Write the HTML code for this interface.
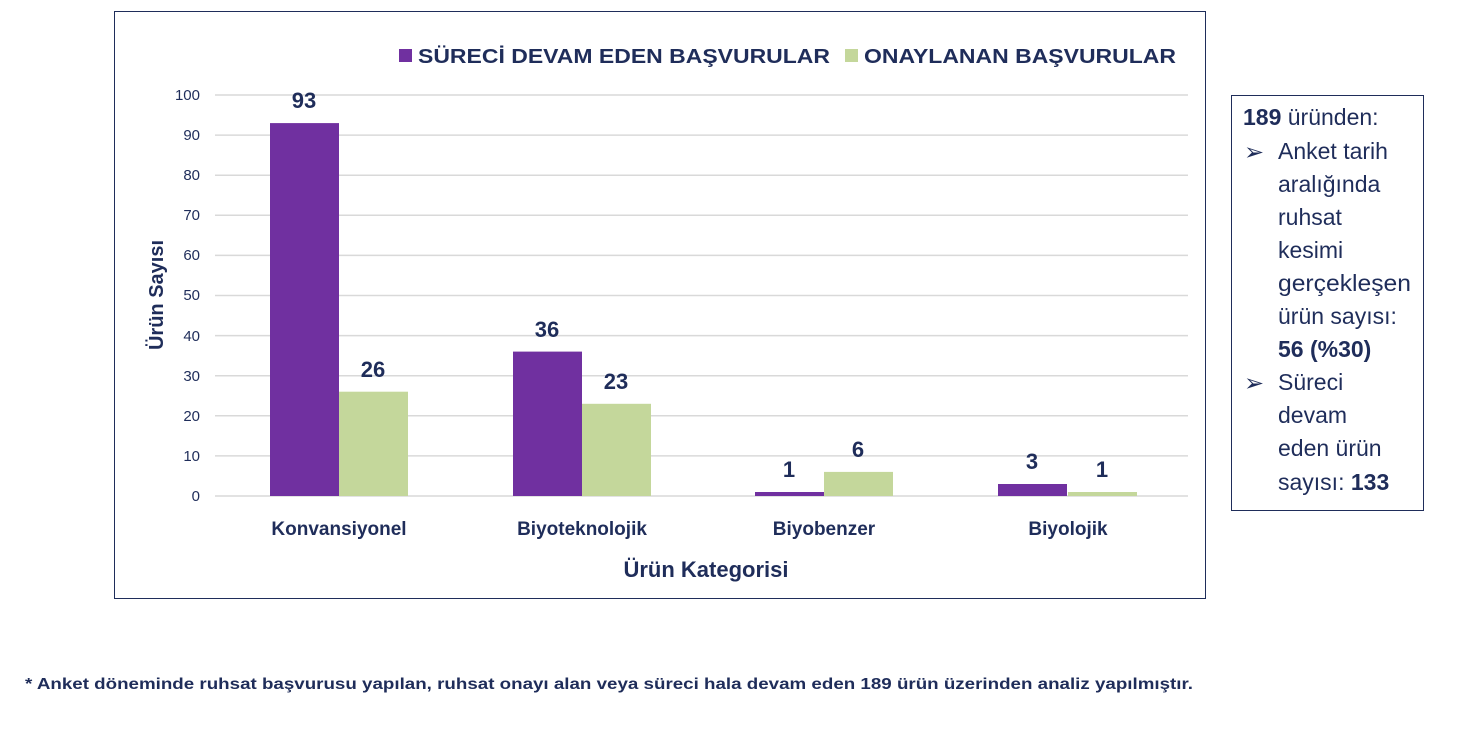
<!DOCTYPE html>
<html><head><meta charset="utf-8"><style>
body{margin:0;background:#fff;width:1477px;height:744px;overflow:hidden;font-family:"Liberation Sans",sans-serif}
</style></head><body>
<svg width="1477" height="744" xmlns="http://www.w3.org/2000/svg" font-family="Liberation Sans, sans-serif">
<rect x="114.5" y="11.5" width="1091" height="587" fill="#fff" stroke="#1f2d5a" stroke-width="1"/>
<g stroke="#d9d9d9" stroke-width="1.5">
<line x1="215" x2="1188" y1="496" y2="496"/><line x1="215" x2="1188" y1="455.9" y2="455.9"/>
<line x1="215" x2="1188" y1="415.8" y2="415.8"/><line x1="215" x2="1188" y1="375.7" y2="375.7"/>
<line x1="215" x2="1188" y1="335.6" y2="335.6"/><line x1="215" x2="1188" y1="295.5" y2="295.5"/>
<line x1="215" x2="1188" y1="255.4" y2="255.4"/><line x1="215" x2="1188" y1="215.3" y2="215.3"/>
<line x1="215" x2="1188" y1="175.2" y2="175.2"/><line x1="215" x2="1188" y1="135.1" y2="135.1"/>
<line x1="215" x2="1188" y1="95" y2="95"/>
</g>
<g font-size="15" fill="#1f2d5a" text-anchor="end">
<text x="200" y="501">0</text><text x="200" y="461">10</text><text x="200" y="421">20</text>
<text x="200" y="381">30</text><text x="200" y="341">40</text><text x="200" y="300">50</text>
<text x="200" y="260">60</text><text x="200" y="220">70</text><text x="200" y="180">80</text>
<text x="200" y="140">90</text><text x="200" y="100">100</text>
</g>
<g fill="#7030a0">
<rect x="270" y="123.1" width="69" height="372.9"/>
<rect x="513" y="351.6" width="69" height="144.4"/>
<rect x="755" y="492" width="69" height="4"/>
<rect x="998" y="484" width="69" height="12"/>
</g>
<g fill="#c4d79b">
<rect x="339" y="391.7" width="69" height="104.3"/>
<rect x="582" y="403.8" width="69" height="92.2"/>
<rect x="824" y="471.9" width="69" height="24.1"/>
<rect x="1068" y="492" width="69" height="4"/>
</g>
<g font-size="22" font-weight="bold" fill="#1f2d5a" text-anchor="middle">
<text x="304" y="108">93</text><text x="373" y="377">26</text>
<text x="547" y="337">36</text><text x="616" y="389">23</text>
<text x="789" y="477">1</text><text x="858" y="457">6</text>
<text x="1032" y="469">3</text><text x="1102" y="477">1</text>
</g>
<g font-size="19" font-weight="bold" fill="#1f2d5a" text-anchor="middle">
<text x="339" y="535">Konvansiyonel</text><text x="582" y="535">Biyoteknolojik</text>
<text x="824" y="535">Biyobenzer</text><text x="1068" y="535">Biyolojik</text>
<text x="706" y="577" font-size="22">Ürün Kategorisi</text>
<text transform="translate(163,295) rotate(-90)" font-size="20">Ürün Sayısı</text>
</g>
<rect x="399" y="49" width="13" height="13" fill="#7030a0"/>
<rect x="845" y="49" width="13" height="13" fill="#c4d79b"/>
<g font-size="20" font-weight="bold" fill="#1f2d5a">
<text x="418" y="63" textLength="412" lengthAdjust="spacingAndGlyphs">SÜRECİ DEVAM EDEN BAŞVURULAR</text>
<text x="864" y="63" textLength="312" lengthAdjust="spacingAndGlyphs">ONAYLANAN BAŞVURULAR</text>
</g>
<rect x="1231.5" y="95.5" width="192" height="415" fill="#fff" stroke="#1f2d5a" stroke-width="1"/>
<g font-size="23" fill="#1f2d5a">
<text x="1243" y="125"><tspan font-weight="bold">189</tspan> üründen:</text>
<text x="1244" y="160" font-size="24">➢</text>
<text x="1278" y="159">Anket tarih</text>
<text x="1278" y="192">aralığında</text>
<text x="1278" y="225">ruhsat</text>
<text x="1278" y="258">kesimi</text>
<text x="1278" y="291" textLength="133" lengthAdjust="spacingAndGlyphs">gerçekleşen</text>
<text x="1278" y="324">ürün sayısı:</text>
<text x="1278" y="357" font-weight="bold">56 (%30)</text>
<text x="1244" y="391" font-size="24">➢</text>
<text x="1278" y="390">Süreci</text>
<text x="1278" y="423">devam</text>
<text x="1278" y="456">eden ürün</text>
<text x="1278" y="490">sayısı: <tspan font-weight="bold">133</tspan></text>
</g>
<text x="25" y="689" font-size="16" font-weight="bold" fill="#1f2d5a" textLength="1168" lengthAdjust="spacingAndGlyphs">* Anket döneminde ruhsat başvurusu yapılan, ruhsat onayı alan veya süreci hala devam eden 189 ürün üzerinden analiz yapılmıştır.</text>
</svg>
</body></html>
